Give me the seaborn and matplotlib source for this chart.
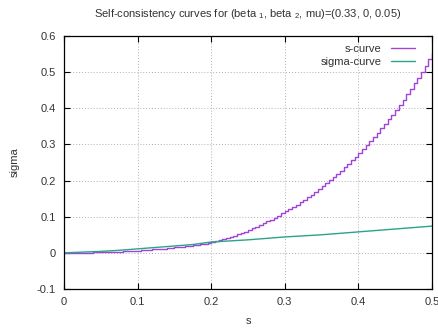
import numpy as np
import pandas as pd
import matplotlib
matplotlib.use("Agg")
import matplotlib.pyplot as plt
import seaborn as sns

# s grid shared by both curves (step 0.005)
s_grid = [round(0.005 * i, 3) for i in range(101)]

# s-curve: sigma values on the s grid
s_curve_sigma = [
    0.0000, 0.0000, 0.0001, 0.0002, 0.0003, 0.0004, 0.0006, 0.0008, 0.0010, 0.0013,
    0.0016, 0.0019, 0.0023, 0.0027, 0.0031, 0.0036, 0.0041, 0.0046, 0.0052, 0.0058,
    0.0064, 0.0071, 0.0078, 0.0085, 0.0093, 0.0101, 0.0110, 0.0119, 0.0128, 0.0138,
    0.0148, 0.0159, 0.0170, 0.0182, 0.0195, 0.0208, 0.0223, 0.0239, 0.0257, 0.0277,
    0.0298, 0.0321, 0.0347, 0.0375, 0.0406, 0.0440, 0.0475, 0.0511, 0.0549, 0.0589,
    0.0630, 0.0674, 0.0719, 0.0766, 0.0816, 0.0868, 0.0921, 0.0976, 0.1032, 0.1090,
    0.1150, 0.1211, 0.1273, 0.1337, 0.1403, 0.1470, 0.1540, 0.1612, 0.1687, 0.1763,
    0.1840, 0.1921, 0.2004, 0.2089, 0.2178, 0.2270, 0.2365, 0.2462, 0.2561, 0.2660,
    0.2760, 0.2864, 0.2972, 0.3084, 0.3200, 0.3320, 0.3442, 0.3567, 0.3695, 0.3826,
    0.3960, 0.4097, 0.4238, 0.4384, 0.4534, 0.4690, 0.4850, 0.5014, 0.5182, 0.5354,
    0.5530,
]

# sigma-curve: sampled every 0.025 in s
sigma_curve_s = [0.0, 0.025, 0.05, 0.075, 0.1, 0.125, 0.15, 0.175, 0.2, 0.225, 0.25,
                 0.275, 0.3, 0.325, 0.35, 0.375, 0.4, 0.425, 0.45, 0.475, 0.5]
sigma_curve_sigma = [0.000, 0.002, 0.004, 0.007, 0.011, 0.015, 0.019, 0.023, 0.030, 0.033,
                     0.036, 0.040, 0.044, 0.047, 0.050, 0.054, 0.058, 0.062, 0.066, 0.070,
                     0.074]

x_ticks = [0, 0.1, 0.2, 0.3, 0.4, 0.5]
x_tick_labels = ["0", "0.1", "0.2", "0.3", "0.4", "0.5"]
y_ticks = [-0.1, 0, 0.1, 0.2, 0.3, 0.4, 0.5, 0.6]
y_tick_labels = ["-0.1", "0", "0.1", "0.2", "0.3", "0.4", "0.5", "0.6"]

sns.set_theme(style="white")
plt.rcParams["font.family"] = ["Liberation Sans", "DejaVu Sans"]
plt.rcParams["mathtext.fontset"] = "custom"
plt.rcParams["mathtext.rm"] = "Liberation Sans"
plt.rcParams["mathtext.it"] = "Liberation Sans"

text_color = "#333333"
purple = "#a044d8"
green = "#2aa386"

fig = plt.figure(figsize=(4.39, 3.28), dpi=100)
ax = fig.add_axes([0.1458, 0.119, 0.8382, 0.771])

df_s = pd.DataFrame({"s": s_grid, "sigma": s_curve_sigma})
df_g = pd.DataFrame({"s": sigma_curve_s, "sigma": sigma_curve_sigma})

sns.lineplot(data=df_s, x="s", y="sigma", ax=ax, color=purple, linewidth=1.0,
             drawstyle="steps-post", estimator=None, sort=False, label="s-curve")
sns.lineplot(data=df_g, x="s", y="sigma", ax=ax, color=green, linewidth=1.0,
             estimator=None, sort=False, label="sigma-curve")

ax.set_xlim(0, 0.5)
ax.set_ylim(-0.1, 0.6)
ax.set_xticks(x_ticks)
ax.set_xticklabels(x_tick_labels)
ax.set_yticks(y_ticks)
ax.set_yticklabels(y_tick_labels)

ax.grid(True, color="#b0b0b0", linestyle=(0, (1, 2)), linewidth=0.7)
ax.set_axisbelow(True)
for sp in ax.spines.values():
    sp.set_color("black")
    sp.set_linewidth(0.9)
    sp.set_visible(True)

ax.tick_params(axis="both", which="major", direction="in", length=4, width=0.8,
               colors="black", labelcolor=text_color, labelsize=8,
               top=True, right=True, bottom=True, left=True)
ax.tick_params(axis="x", pad=6)
ax.tick_params(axis="y", pad=6)

ax.set_xlabel("s", fontsize=8, color=text_color, labelpad=6)
ax.set_ylabel("sigma", fontsize=8, color=text_color, labelpad=12)
ax.set_title("Self-consistency curves for (beta $_1$, beta $_2$, mu)=(0.33, 0, 0.05)",
             fontsize=8, color=text_color, pad=14)

leg = ax.legend(loc="upper right", frameon=False, fontsize=8, markerfirst=False,
                handlelength=2.2, handletextpad=0.8, labelspacing=0.25,
                borderaxespad=0.3, bbox_to_anchor=(0.975, 1.0))
for t in leg.get_texts():
    t.set_color(text_color)
vp = leg._legend_box._children[-1]._children[0]
vp.align = "right"

fig.savefig("out.png", dpi=100)
